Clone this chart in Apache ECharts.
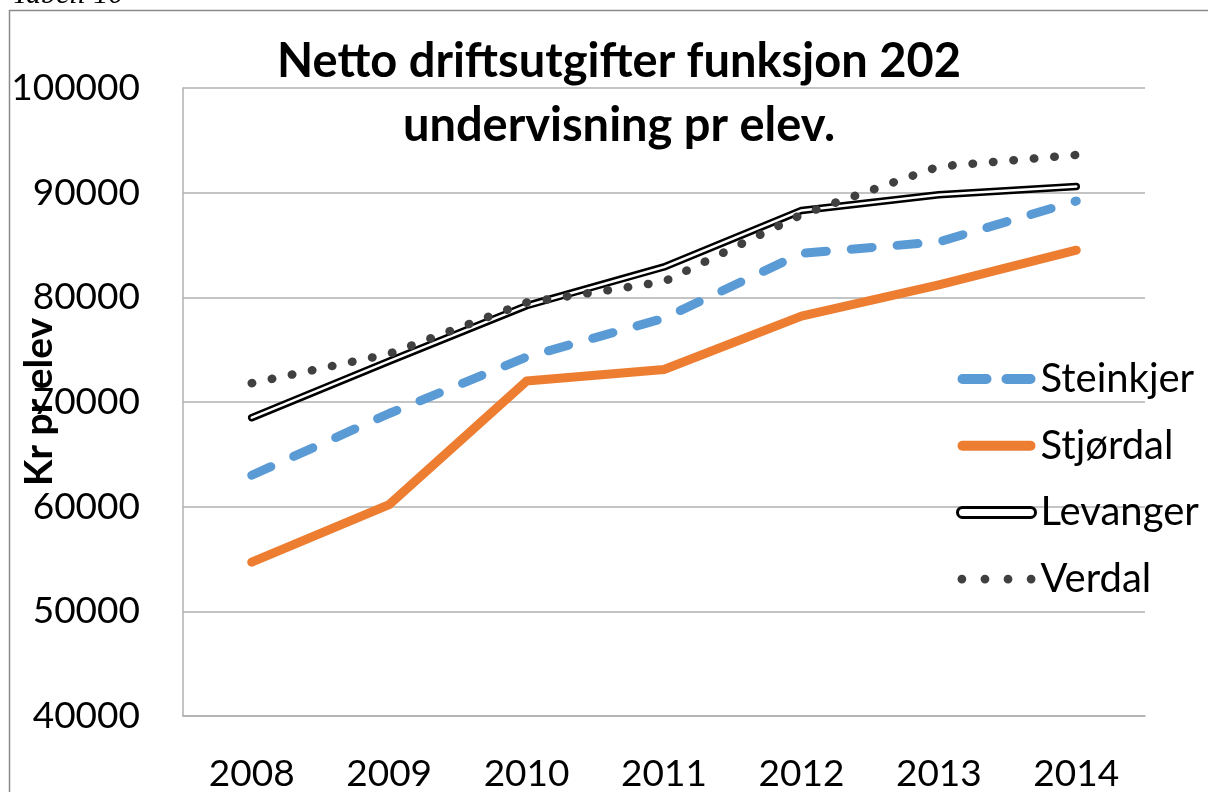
<!DOCTYPE html>
<html>
<head>
<meta charset="utf-8">
<script src="https://cdn.jsdelivr.net/npm/echarts@6/dist/echarts.min.js"></script>
<style>
html,body{margin:0;padding:0;background:#fff;}
#chart{width:1208px;height:792px;}
</style>
</head>
<body>
<div id="chart"></div>
<script>
const years = ['2008','2009','2010','2011','2012','2013','2014'];
const steinkjer = [63000, 68900, 74300, 78000, 84200, 85300, 89200];
const stjordal  = [54700, 60200, 72000, 73100, 78200, 81200, 84500];
const levanger  = [68500, 73900, 79200, 82900, 88300, 89800, 90600];
const verdal    = [71800, 74600, 79500, 81500, 87900, 92500, 93600];
const yTicks = {min: 40000, max: 100000, interval: 10000};

const FONT = 'Lato';
const chart = echarts.init(document.getElementById('chart'), null, {renderer: 'canvas'});

const dashIcon = 'path://M5 0H29A5 5 0 0 1 29 10H5A5 5 0 0 1 5 0Z M49 0H73A5 5 0 0 1 73 10H49A5 5 0 0 1 49 0Z';
const barIcon = 'path://M5 0H73A5 5 0 0 1 73 10H5A5 5 0 0 1 5 0Z';
const dotIcon = 'path://M1 5a4 4 0 1 0 8 0a4 4 0 1 0 -8 0Z M22 5a4 4 0 1 0 8 0a4 4 0 1 0 -8 0Z M43 5a4 4 0 1 0 8 0a4 4 0 1 0 -8 0Z M64 5a4 4 0 1 0 8 0a4 4 0 1 0 -8 0Z';

chart.setOption({
  animation: false,
  backgroundColor: '#fff',
  title: {
    text: 'Netto driftsutgifter funksjon 202\nundervisning pr elev.',
    left: 614, top: 25, textAlign: 'center',
    textStyle: {fontFamily: FONT, fontWeight: 'bold', fontSize: 47, lineHeight: 64, color: '#000'}
  },
  graphic: [
    {type: 'rect', shape: {x: 9.5, y: 10.5, width: 1400, height: 1000},
     style: {fill: 'none', stroke: '#8a8a8a', lineWidth: 1.5}, silent: true},
    {type: 'text', style: {text: 'Tabell 10', x: 12, y: 10, verticalAlign: 'bottom',
     font: 'italic 30px "Liberation Serif"', fill: '#000'}}
  ],
  legend: {
    orient: 'vertical', left: 951, top: 354,
    itemWidth: 78, itemHeight: 10, itemGap: 26.7,
    textStyle: {fontFamily: FONT, fontSize: 40, lineHeight: 40, color: '#000'},
    data: [
      {name: 'Steinkjer', icon: dashIcon, itemStyle: {color: '#5B9BD5', borderWidth: 0}},
      {name: 'Stjørdal', icon: barIcon, itemStyle: {color: '#ED7D31', borderWidth: 0}},
      {name: 'Levanger', icon: barIcon, itemStyle: {color: '#fff', borderColor: '#000', borderWidth: 3}},
      {name: 'Verdal', icon: dotIcon, itemStyle: {color: '#404040', borderWidth: 0}}
    ]
  },
  grid: {left: 183, right: 63, top: 88, bottom: 76, containLabel: false, outerBoundsMode: 'none'},
  xAxis: {
    type: 'category', data: years, boundaryGap: true,
    axisLine: {show: true, lineStyle: {color: '#b0b0b0', width: 1.5}},
    axisTick: {show: false},
    axisLabel: {fontFamily: FONT, fontSize: 37, color: '#000', margin: 40}
  },
  yAxis: {
    type: 'value', min: yTicks.min, max: yTicks.max, interval: yTicks.interval,
    name: 'Kr pr elev', nameLocation: 'middle', nameRotate: 90, nameGap: 124,
    nameMoveOverlap: false,
    nameTextStyle: {fontFamily: FONT, fontWeight: 'bold', fontSize: 39, color: '#000'},
    axisLine: {show: true, lineStyle: {color: '#b0b0b0', width: 1.5}},
    axisTick: {show: false},
    splitLine: {show: true, lineStyle: {color: '#b0b0b0', width: 1.5}},
    axisLabel: {fontFamily: FONT, fontSize: 37, color: '#000', margin: 43,
      formatter: function (v) { return String(v); }}
  },
  series: [
    {name: 'Steinkjer', type: 'line', data: steinkjer, symbol: 'none', z: 2,
     lineStyle: {color: '#5B9BD5', width: 9, type: [21, 25], cap: 'round', join: 'round'},
     itemStyle: {color: '#5B9BD5'}},
    {name: 'Stjørdal', type: 'line', data: stjordal, symbol: 'none', z: 3,
     lineStyle: {color: '#ED7D31', width: 9, cap: 'round', join: 'round'},
     itemStyle: {color: '#ED7D31'}},
    {name: 'Levanger', type: 'line', data: levanger, symbol: 'none', z: 4,
     lineStyle: {color: '#000', width: 7.5, cap: 'round', join: 'round'},
     itemStyle: {color: '#000'}},
    {name: 'Levanger-inner', type: 'line', data: levanger, symbol: 'none', z: 5,
     lineStyle: {color: '#fff', width: 2.5, cap: 'round', join: 'round'},
     itemStyle: {color: '#fff'}},
    {name: 'Verdal', type: 'line', data: verdal, symbol: 'none', z: 6,
     lineStyle: {color: '#404040', width: 8.5, type: [0.5, 20], cap: 'round', join: 'round'},
     itemStyle: {color: '#404040'}}
  ]
});
</script>
</body>
</html>
